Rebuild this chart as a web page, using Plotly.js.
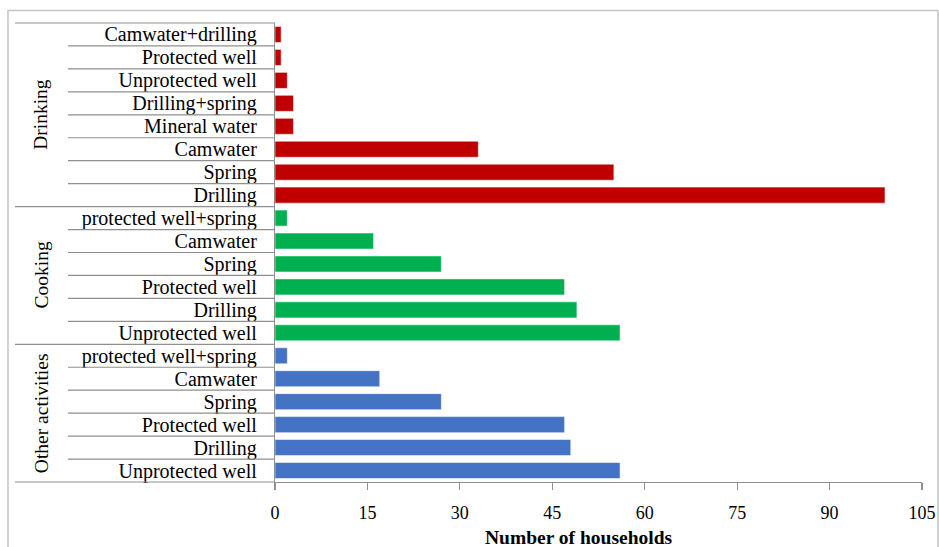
<!DOCTYPE html>
<html>
<head>
<meta charset="utf-8">
<script src="https://cdn.plot.ly/plotly-3.0.1.min.js"></script>
<style>
  html, body { margin: 0; padding: 0; background: #ffffff; }
  #chart { width: 939px; height: 547px; }
</style>
</head>
<body>
<div id="chart"></div>
<script>
// Water sources used by households, grouped by purpose (listed top to bottom)
const groupNames = ["Drinking", "Cooking", "Other activities"];

const drinkingSources = ["Camwater+drilling", "Protected well", "Unprotected well", "Drilling+spring",
                         "Mineral water", "Camwater", "Spring", "Drilling"];
const drinkingCounts = [1, 1, 2, 3, 3, 33, 55, 99];

const cookingSources = ["protected well+spring", "Camwater", "Spring", "Protected well", "Drilling", "Unprotected well"];
const cookingCounts = [2, 16, 27, 47, 49, 56];

const otherSources = ["protected well+spring", "Camwater", "Spring", "Protected well", "Drilling", "Unprotected well"];
const otherCounts = [2, 17, 27, 47, 48, 56];

const groupColors = ["#C00000", "#00B050", "#4472C4"];
const xTicks = [0, 15, 30, 45, 60, 75, 90, 105];

// Page geometry (pixels)
const W = 939, H = 547;
const M = { l: 275, r: 17, t: 23, b: 65 };
const plotW = W - M.l - M.r, plotH = H - M.t - M.b;
const px2x = px => (px - M.l) / plotW;
const px2y = py => (H - M.b - py) / plotH;

const groups = [
  { labels: drinkingSources, values: drinkingCounts },
  { labels: cookingSources, values: cookingCounts },
  { labels: otherSources, values: otherCounts }
];
const nRows = groups.reduce((s, g) => s + g.labels.length, 0);

// Numeric row positions so repeated source names stay separate rows
const traces = [];
const tickvals = [], ticktext = [];
const groupSpans = [];
let row = 0;
groups.forEach((g, gi) => {
  const ys = g.labels.map((_, k) => nRows - 1 - (row + k));
  groupSpans.push([row, row + g.labels.length]);
  row += g.labels.length;
  ys.forEach((y, k) => { tickvals.push(y); ticktext.push(g.labels[k]); });
  traces.push({
    type: "bar",
    orientation: "h",
    x: g.values,
    y: ys,
    name: groupNames[gi],
    marker: { color: groupColors[gi], line: { color: "rgba(255,255,255,0.55)", width: 1 } },
    hoverinfo: "x+name"
  });
});

const lineColor = "#8f8f8f";
const shapes = [];
// row boundaries on the category side: long lines between groups, short ones inside a group
const groupEdges = new Set();
groupSpans.forEach(s => { groupEdges.add(s[0]); groupEdges.add(s[1]); });
for (let k = 0; k <= nRows; k++) {
  const yP = 1 - k / nRows;
  const isEdge = groupEdges.has(k);
  shapes.push({
    type: "line", xref: "paper", yref: "paper",
    x0: px2x(isEdge ? 15 : 68), x1: 0, y0: yP, y1: yP,
    line: { color: lineColor, width: 1.2 }
  });
}
// chart frame
shapes.push({
  type: "rect", xref: "paper", yref: "paper",
  x0: px2x(8), x1: px2x(938), y0: px2y(10.5), y1: px2y(560),
  line: { color: "#c4c4c4", width: 1.5 }
});

const serif = "Liberation Serif, Times New Roman, serif";
const annotations = groupSpans.map((s, gi) => ({
  xref: "paper", yref: "paper",
  x: px2x(41), y: 1 - (s[0] + s[1]) / 2 / nRows,
  text: groupNames[gi], textangle: -90, showarrow: false,
  xanchor: "center", yanchor: "middle",
  font: { family: serif, size: 19.5, color: "#000" }
}));
annotations.push({
  xref: "paper", yref: "paper",
  x: px2x(579), y: px2y(537),
  text: "<b>Number of households</b>", showarrow: false,
  xanchor: "center", yanchor: "middle",
  font: { family: serif, size: 19.5, color: "#000" }
});

const layout = {
  width: W, height: H,
  margin: M,
  paper_bgcolor: "#ffffff", plot_bgcolor: "#ffffff",
  showlegend: false,
  bargap: 0.3,
  font: { family: serif, color: "#000" },
  xaxis: {
    range: [0, 105], tickvals: xTicks, ticktext: xTicks.map(String),
    showgrid: false, zeroline: false,
    showline: true, linecolor: lineColor, linewidth: 1.2,
    ticks: "outside", ticklen: 7, tickcolor: lineColor, tickwidth: 1.2,
    ticklabelstandoff: 7,
    tickfont: { size: 18, color: "#000" }, fixedrange: true
  },
  yaxis: {
    range: [-0.5, nRows - 0.5], tickvals: tickvals, ticktext: ticktext,
    showgrid: false, zeroline: false,
    showline: true, linecolor: lineColor, linewidth: 1.2,
    ticks: "", ticklabelstandoff: 13,
    tickfont: { size: 20, color: "#000" }, fixedrange: true
  },
  shapes: shapes,
  annotations: annotations
};

Plotly.newPlot("chart", traces, layout, { displayModeBar: false, staticPlot: true });
</script>
</body>
</html>
